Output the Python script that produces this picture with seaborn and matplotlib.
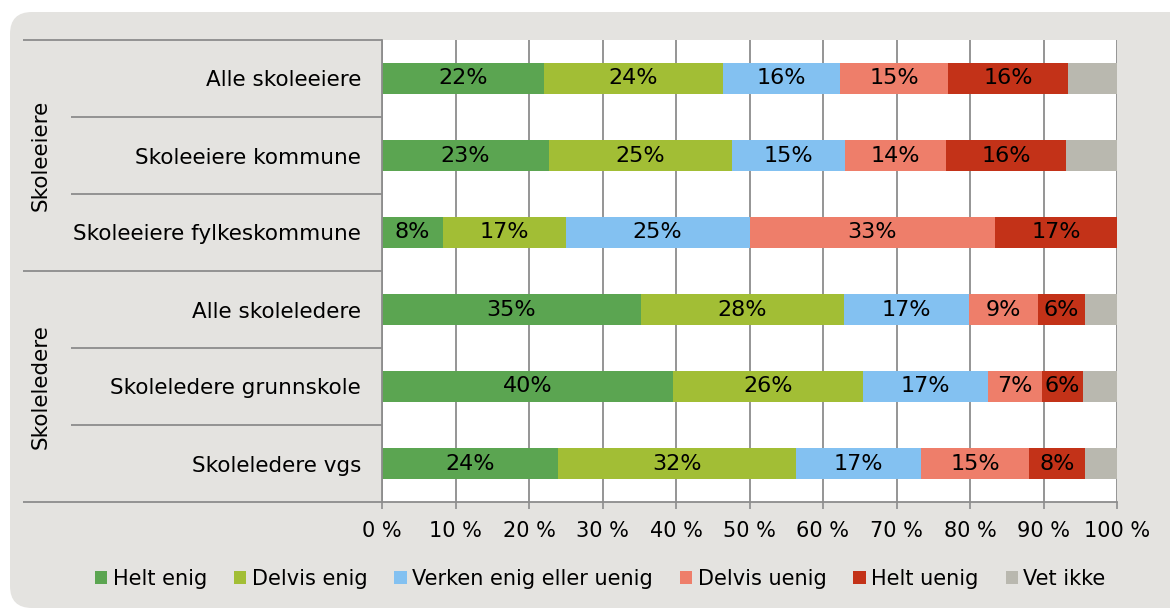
import numpy as np
import pandas as pd
import matplotlib
matplotlib.use("Agg")
import matplotlib.pyplot as plt
import seaborn as sns
from matplotlib.patches import FancyBboxPatch, Patch
from matplotlib.transforms import IdentityTransform

# data (percent of respondents)
categories = ["Alle skoleeiere", "Skoleeiere kommune", "Skoleeiere fylkeskommune",
              "Alle skoleledere", "Skoleledere grunnskole", "Skoleledere vgs"]
groups = ["Skoleeiere", "Skoleledere"]
series = ["Helt enig", "Delvis enig", "Verken enig eller uenig",
          "Delvis uenig", "Helt uenig", "Vet ikke"]
helt_enig = [22.0, 22.7, 8.3, 35.2, 39.6, 23.9]
delvis_enig = [24.4, 24.9, 16.7, 27.7, 25.8, 32.4]
verken = [15.9, 15.4, 25.0, 17.0, 17.0, 17.1]
delvis_uenig = [14.7, 13.8, 33.4, 9.4, 7.4, 14.6]
helt_uenig = [16.4, 16.2, 16.6, 6.3, 5.6, 7.7]
vet_ikke = [6.6, 7.0, 0.0, 4.4, 4.6, 4.3]
xticks = [0, 10, 20, 30, 40, 50, 60, 70, 80, 90, 100]

colors = ["#5ba551", "#a2be35", "#83c1f1", "#ee7e6a", "#c33218", "#b9b8af"]

sns.set_theme(style="white")
plt.rcParams["font.family"] = ["DejaVu Sans"]
plt.rcParams["text.color"] = "black"
plt.rcParams["xtick.labelcolor"] = "black"
plt.rcParams["ytick.labelcolor"] = "black"

df = pd.DataFrame(dict(zip(series, [helt_enig, delvis_enig, verken,
                                     delvis_uenig, helt_uenig, vet_ikke])))
df["kategori"] = categories
cum = df[series].cumsum(axis=1)
cum["kategori"] = categories

fig = plt.figure(figsize=(11.7, 6.1), dpi=100)
fig.patch.set_facecolor("white")
bg = FancyBboxPatch((10, 2), 1300, 596, boxstyle="round,pad=0,rounding_size=22",
                    transform=IdentityTransform(), facecolor="#e4e3e0",
                    edgecolor="none", zorder=-10)
fig.add_artist(bg)

ax = fig.add_axes([382 / 1170, 1 - 502 / 610, 735 / 1170, 462 / 610])
ax.set_facecolor("white")

# stacked bars: draw cumulative totals from the back to the front
for name, col in reversed(list(zip(series, colors))):
    sns.barplot(data=cum, x=name, y="kategori", order=categories, color=col,
                width=0.4, errorbar=None, linewidth=0, saturation=1, ax=ax)

# value labels in the middle of each segment
for i in range(len(categories)):
    for j, name in enumerate(series[:-1]):
        v = df.loc[i, name]
        mid = cum.loc[i, name] - v / 2
        ax.text(mid, i, f"{v:.0f}%", ha="center", va="center",
                fontsize=16, color="black")

ax.set_xlim(0, 100)
ax.set_ylim(len(categories) - 0.5, -0.5)
ax.set_xticks(xticks)
ax.set_xticklabels([f"{t} %" for t in xticks], fontsize=15)
ax.set_xlabel("")
ax.set_ylabel("")
ax.tick_params(axis="y", length=0, pad=15, labelsize=15.5)
ax.tick_params(axis="x", length=5, width=1.2, color="#8c8c8c",
               direction="out", bottom=True, pad=9)
ax.set_axisbelow(True)
ax.xaxis.grid(True, color="#8c8c8c", linewidth=1.3)
ax.yaxis.grid(False)
for s in ["top", "right"]:
    ax.spines[s].set_visible(False)
for s in ["left", "bottom"]:
    ax.spines[s].set_color("#8c8c8c")
    ax.spines[s].set_linewidth(1.3)

# category separator lines and group labels in the left margin
ytr = ax.get_yaxis_transform()
for k in range(len(categories) + 1):
    b = k - 0.5
    x0 = -0.488 if k % 3 == 0 else -0.423
    ax.plot([x0, 0], [b, b], color="#8c8c8c", lw=1.3, transform=ytr,
            clip_on=False, solid_capstyle="butt")
for g, name in enumerate(groups):
    ax.text(-0.465, 3 * g + 1, name, rotation=90, ha="center", va="center",
            fontsize=15.5, transform=ytr, color="black")

handles = [Patch(facecolor=c, edgecolor="none") for c in colors]
fig.legend(handles, series, loc="center", bbox_to_anchor=(0.513, 0.051),
           ncol=6, frameon=False, fontsize=15, handlelength=0.6,
           handleheight=0.6, handletextpad=0.25, columnspacing=1.3,
           labelcolor="black")

fig.savefig("out.png", dpi=100)
